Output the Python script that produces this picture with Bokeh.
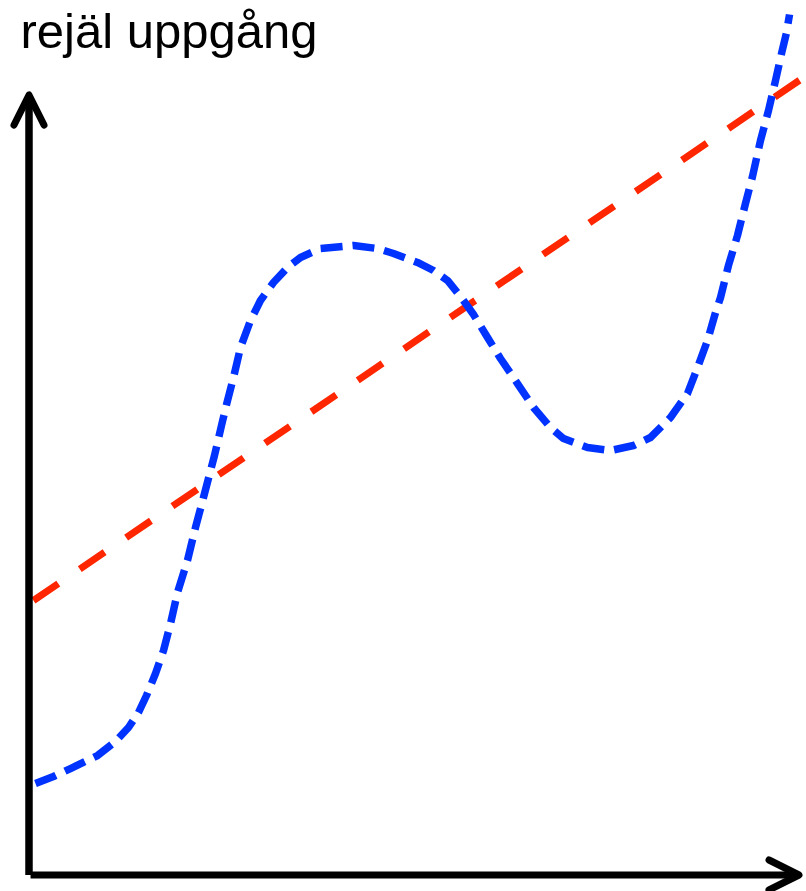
from bokeh.plotting import figure
from bokeh.models import Arrow, OpenHead, Label, Range1d
from bokeh.embed import file_html
from bokeh.resources import INLINE

# Data (arbitrary units, axes run from 0 to 100)
title_text = "rejäl uppgång"

curve_x = [0.84, 3.18, 5.39, 8.90, 11.23, 12.92, 14.22, 15.26, 16.43, 17.47,
           18.38, 19.29, 20.58, 21.62, 22.66, 24.09, 25.00, 25.78, 26.56, 27.47,
           28.77, 30.06, 31.75, 33.57, 35.26, 37.86, 42.14, 45.26, 47.34, 50.45,
           52.53, 54.35, 56.04, 57.73, 59.55, 61.23, 63.44, 65.52, 67.73, 69.42,
           72.53, 75.52, 78.51, 80.71, 83.31, 85.52, 86.82, 88.12, 89.16, 89.81,
           90.84, 92.01, 93.05, 93.96, 95.00, 96.04, 96.95, 97.73, 98.38, 98.77]
curve_y = [11.73, 12.63, 13.65, 15.32, 17.12, 18.91, 20.83, 23.01, 25.83, 28.78,
           32.24, 36.22, 40.32, 44.55, 48.40, 53.78, 57.63, 60.83, 63.78, 67.63,
           71.09, 73.65, 75.96, 77.88, 79.17, 80.32, 80.71, 80.32, 79.68, 78.53,
           77.50, 76.22, 74.17, 71.86, 68.91, 66.22, 63.01, 59.94, 57.37, 55.96,
           54.81, 54.42, 55.06, 56.09, 58.65, 61.73, 65.06, 68.53, 72.12, 74.04,
           78.14, 81.99, 86.09, 89.55, 94.17, 98.01, 101.86, 105.32, 108.01, 110.32]

trend_x = [0.58, 100.97]
trend_y = [35.19, 102.50]

axis_x_end = 100.0
axis_y_end = 100.0

W, H = 806, 891
px_x, px_y = 7.7, 7.8
x0 = -28.5 / px_x
y1 = 874.5 / px_y

p = figure(width=W, height=H, output_backend="svg", toolbar_location=None,
           x_range=Range1d(x0, x0 + W / px_x), y_range=Range1d(y1 - H / px_y, y1),
           min_border=0, x_axis_type=None, y_axis_type=None)
p.grid.visible = False
p.outline_line_color = None
p.background_fill_color = "white"
p.border_fill_color = "white"

p.line(trend_x, trend_y, line_color="#ff2600", line_width=7, line_dash="30 26")
p.line(curve_x, curve_y, line_color="#0033ff", line_width=7.5, line_dash="22 10",
       line_join="round")

head_kw = dict(size=30, line_width=7, line_color="black", line_join="round",
               line_cap="round")
p.add_layout(Arrow(x_start=0, y_start=0, x_end=0, y_end=axis_y_end,
                   line_width=7.5, line_color="black",
                   end=OpenHead(**head_kw)))
p.add_layout(Arrow(x_start=0.2, y_start=0, x_end=axis_x_end, y_end=0,
                   line_width=7, line_color="black",
                   end=OpenHead(**head_kw)))

p.add_layout(Label(x=-1.10, y=108.2, text=title_text, text_font="Liberation Sans",
                   text_font_size="49px", text_color="black",
                   text_baseline="alphabetic", text_align="left"))

open("out.html", "w").write(file_html(p, INLINE))
